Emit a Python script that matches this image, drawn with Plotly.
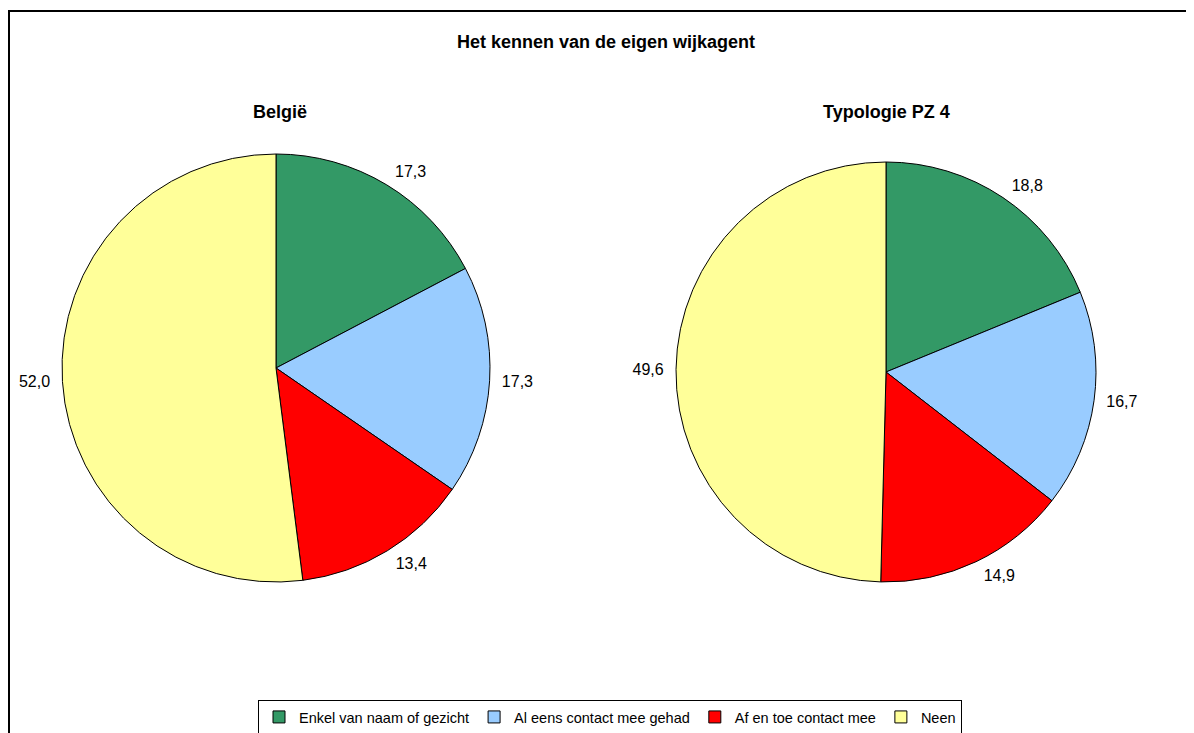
import plotly.graph_objects as go

categories = ["Enkel van naam of gezicht", "Al eens contact mee gehad", "Af en toe contact mee", "Neen"]
belgie = [17.3, 17.3, 13.4, 52.0]
pz4 = [18.8, 16.7, 14.9, 49.6]
colors = ["#339966", "#99CCFF", "#FF0000", "#FFFF99"]

W, H = 1194, 733
OX, OY = 8, 8  # page body margin offset
FONT = "Liberation Sans, Arial, sans-serif"

def px(x):
    return (x - OX) / W

def py(y):
    return 1 - (y - OY) / H

def dom(cx, cy, r):
    return dict(x=[px(cx - r), px(cx + r)], y=[py(cy + r), py(cy - r)])

fig = go.Figure()
pies = [(belgie, (276, 368, 214), True), (pz4, (886, 372, 210), False)]
for vals, (cx, cy, r), leg in pies:
    fig.add_trace(go.Pie(labels=categories, values=vals, sort=False, direction="clockwise", rotation=0,
                         marker=dict(colors=colors, line=dict(color="black", width=1)),
                         textinfo="none", domain=dom(cx, cy, r), showlegend=leg))
for vals, (cx, cy, r), leg in pies:
    # transparent label ring, slightly larger, so labels sit a bit away from the edge
    fig.add_trace(go.Pie(labels=categories, values=vals, sort=False, direction="clockwise", rotation=0,
                         marker=dict(colors=["rgba(0,0,0,0)"] * 4, line=dict(width=0)),
                         textposition="outside", texttemplate="%{value:.1f}",
                         textfont=dict(size=16, color="black", family=FONT),
                         hoverinfo="skip", domain=dom(cx, cy, r + 8), showlegend=False))

fig.update_layout(
    width=W, height=H, margin=dict(l=0, r=0, t=0, b=0),
    paper_bgcolor="white", plot_bgcolor="white", separators=", ",
    font=dict(family=FONT, color="black", size=15),
    annotations=[
        dict(text="<b>Het kennen van de eigen wijkagent</b>", x=px(606), y=py(42), xref="paper", yref="paper",
             showarrow=False, font=dict(size=18), xanchor="center", yanchor="middle"),
        dict(text="<b>België</b>", x=px(280), y=py(112), xref="paper", yref="paper",
             showarrow=False, font=dict(size=18), xanchor="center", yanchor="middle"),
        dict(text="<b>Typologie PZ 4</b>", x=px(886), y=py(112), xref="paper", yref="paper",
             showarrow=False, font=dict(size=18), xanchor="center", yanchor="middle"),
    ],
    shapes=[dict(type="rect", xref="paper", yref="paper", x0=px(9), x1=1.02, y0=-0.02, y1=py(11),
                 line=dict(color="black", width=2), fillcolor="rgba(0,0,0,0)")],
    legend=dict(orientation="h", x=px(610), xanchor="center", y=py(717), yanchor="middle",
                bordercolor="black", borderwidth=1, font=dict(size=14.5), itemwidth=30,
                tracegroupgap=0, itemclick=False),
)

fig.write_html("out.html")
